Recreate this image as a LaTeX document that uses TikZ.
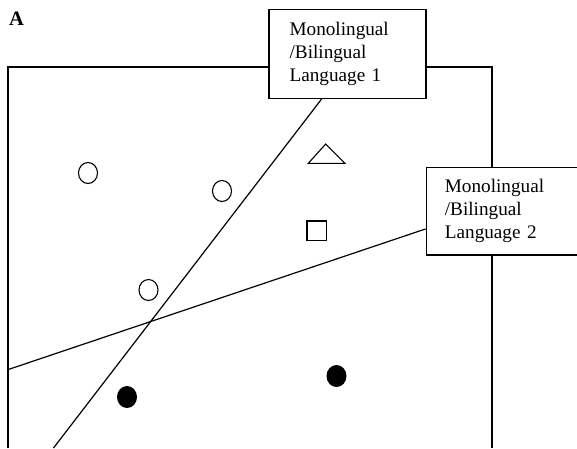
\documentclass[tikz,border=0pt]{standalone}
\usepackage{fontspec}
\setmainfont{Liberation Serif}
\usetikzlibrary{calc,shapes.geometric}
\tikzset{
  lbl/.style={draw, line width=1.2pt, fill=white, rectangle, anchor=north west,
    align=left, font=\fontsize{19.2}{23}\selectfont, inner sep=0pt},
  ln/.style={line width=1.2pt},
  hollow/.style={draw, line width=1.1pt, ellipse, minimum width=19pt, minimum height=21pt, inner sep=0pt},
  solid dot/.style={fill=black, ellipse, minimum width=20pt, minimum height=22pt, inner sep=0pt},
}
\begin{document}
\begin{tikzpicture}[x=1pt,y=-1pt]
\useasboundingbox (0,0) rectangle (577,448);
% frame
\draw[ln] (8,448) -- (8,67) -- (492,67) -- (492,448);
\node[font=\bfseries\fontsize{20.5}{22}\selectfont] (A) at (16.5,18.5) {A};
% label boxes
\node[lbl, minimum width=157pt, minimum height=88.7pt, text width=115.6pt] (b1) at (268.3,9) {Monolingual\\/Bilingual\\Language 1};
\node[lbl, minimum width=152pt, minimum height=87.6pt, text width=114.8pt] (b2) at (425.7,166.7) {Monolingual\\/Bilingual\\Language 2};
% lines
\coordinate (l1end) at (53.5,448);
\coordinate (l2end) at (8,369.6);
\draw[ln] ($(b1.south west)+(53.4,0)$) -- (l1end);
\draw[ln] ($(b2.west)+(0,17.8)$) -- (l2end);
% hollow circles
\node[hollow] (o1) at (88,173) {};
\node[hollow] (o2) at (222,191) {};
\node[hollow] (o3) at (148.5,290) {};
% filled dots
\node[solid dot] (f1) at (127,397) {};
\node[solid dot] (f2) at (336.5,376) {};
% triangle and square
\draw[line width=1.1pt, line join=miter] (308.3,163.3) -- (345,163.3) -- (325.7,144) -- cycle;
\draw[line width=1.1pt] (307,221) rectangle (326.5,240.5);
\end{tikzpicture}
\end{document}
